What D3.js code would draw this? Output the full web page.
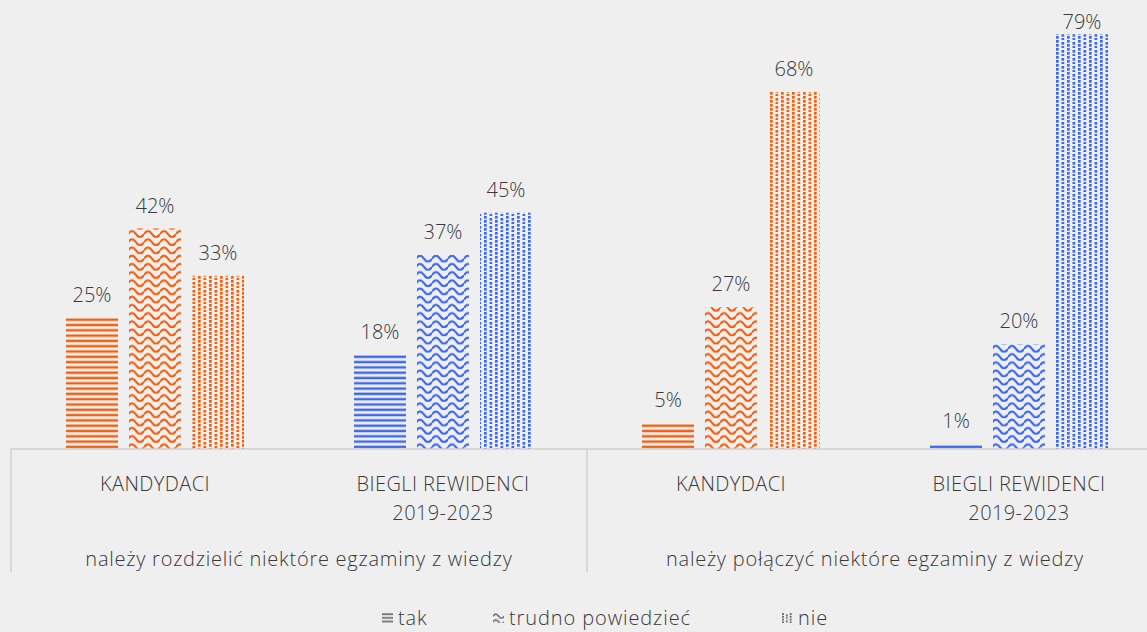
<!DOCTYPE html>
<html>
<head>
<meta charset="utf-8">
<script src="https://cdn.jsdelivr.net/npm/d3@7"></script>
<style>
  body { margin: 0; background: #efefef; }
  svg { display: block; }
  text { font-family: "Open Sans", sans-serif; font-weight: 300; fill: #3a3a3a; }
</style>
</head>
<body>
<svg id="chart"></svg>
<script>
// data
var categories = ["KANDYDACI", "BIEGLI REWIDENCI|2019-2023", "KANDYDACI", "BIEGLI REWIDENCI|2019-2023"];
var groups = ["należy rozdzielić niektóre egzaminy z wiedzy", "należy połączyć niektóre egzaminy z wiedzy"];
var seriesNames = ["tak", "trudno powiedzieć", "nie"];
var tak = [25, 18, 5, 1];
var trudno = [42, 37, 27, 20];
var nie = [33, 45, 68, 79];
var categoryColor = ["orange", "blue", "orange", "blue"];

var palette = { orange: "#f2600f", blue: "#3d68ee", grey: "#6a6a6a" };

var w = 1147, h = 632;
var svg = d3.select("#chart").attr("width", w).attr("height", h);

var base = 449;
var x = d3.scaleBand().domain(d3.range(categories.length)).range([11, 1163]).padding(0);
var y = d3.scaleLinear().domain([0, 100]).range([base, -76]);

// patterns, one set per colour (grey ones are shrunk for the legend)
var defs = svg.append("defs");
Object.keys(palette).forEach(function(c) {
    var col = palette[c];
    var tf = c === "grey" ? "scale(0.7)" : null;

    var p0 = defs.append("pattern").attr("id", "lines-" + c)
        .attr("patternUnits", "userSpaceOnUse").attr("width", 8).attr("height", 5.3)
        .attr("patternTransform", tf);
    p0.append("rect").attr("y", 0.5).attr("width", 8).attr("height", 2.4).attr("fill", col);

    var p1 = defs.append("pattern").attr("id", "wave-" + c)
        .attr("patternUnits", "userSpaceOnUse").attr("width", 16).attr("height", 8.2)
        .attr("patternTransform", tf);
    p1.append("path").attr("d", "M0,4.5 Q4,-1.5 8,4.5 T16,4.5")
        .attr("fill", "none").attr("stroke", col).attr("stroke-width", 2.2);

    var p2 = defs.append("pattern").attr("id", "dots-" + c)
        .attr("patternUnits", "userSpaceOnUse").attr("width", 11).attr("height", 8)
        .attr("patternTransform", tf);
    [[0, 0], [0, 4], [5.5, 2], [5.5, 6]].forEach(function(d) {
        p2.append("rect").attr("x", d[0]).attr("y", d[1]).attr("width", 2.7).attr("height", 2.7).attr("fill", col);
    });
});
var patternKeys = ["lines", "wave", "dots"];

var series = [tak, trudno, nie];
var barW = 52, barStep = 63;

series.forEach(function(values, si) {
    var g = svg.append("g");
    g.selectAll("rect")
        .data(values)
        .enter().append("rect")
        .attr("x", function(d, i) { return x(i) + x.bandwidth() / 2 + (si - 1) * barStep - barW / 2; })
        .attr("y", function(d) { return y(d); })
        .attr("width", barW)
        .attr("height", function(d) { return base - y(d); })
        .attr("fill", function(d, i) { return "url(#" + patternKeys[si] + "-" + categoryColor[i] + ")"; });

    // labels near the top get pushed down, like Excel does
    g.selectAll("text")
        .data(values)
        .enter().append("text")
        .attr("x", function(d, i) { return x(i) + x.bandwidth() / 2 + (si - 1) * barStep; })
        .attr("y", function(d) { return Math.max(y(d) - 16, 29); })
        .attr("text-anchor", "middle")
        .style("font-size", "20px")
        .text(function(d) { return d + "%"; });
});

// axis line and group separators
svg.append("line")
    .attr("x1", 11).attr("x2", 1163).attr("y1", base).attr("y2", base)
    .attr("stroke", "#d0d0d0").attr("stroke-width", 1.5);

[0, 2, 4].forEach(function(i) {
    var xx = i < categories.length ? x(i) : x.range()[1];
    svg.append("line")
        .attr("x1", xx).attr("x2", xx).attr("y1", base).attr("y2", 572)
        .attr("stroke", "#d0d0d0").attr("stroke-width", 1.5);
});

// category labels
categories.forEach(function(c, i) {
    var t = svg.append("text")
        .attr("text-anchor", "middle")
        .style("font-size", "20px")
        .style("letter-spacing", "0.4px");
    c.split("|").forEach(function(line, k) {
        t.append("tspan")
            .attr("x", x(i) + x.bandwidth() / 2)
            .attr("y", 491 + k * 29)
            .text(line);
    });
});

// group labels
groups.forEach(function(gl, gi) {
    svg.append("text")
        .attr("x", (x(gi * 2) + x(gi * 2 + 1) + x.bandwidth()) / 2)
        .attr("y", 566)
        .attr("text-anchor", "middle")
        .style("font-size", "20px")
        .style("letter-spacing", "0.75px")
        .text(gl);
});

// legend
var legendX = [382, 493, 782];
var legend = svg.append("g");
seriesNames.forEach(function(name, i) {
    var sw = legend.append("g").attr("transform", "translate(" + legendX[i] + ",613)");
    sw.append("rect")
        .attr("width", 11).attr("height", 10)
        .attr("fill", "url(#" + patternKeys[i] + "-grey)");
    legend.append("text")
        .attr("x", legendX[i] + 16).attr("y", 625)
        .style("font-size", "20px")
        .style("letter-spacing", "0.9px")
        .text(name);
});
</script>
</body>
</html>
